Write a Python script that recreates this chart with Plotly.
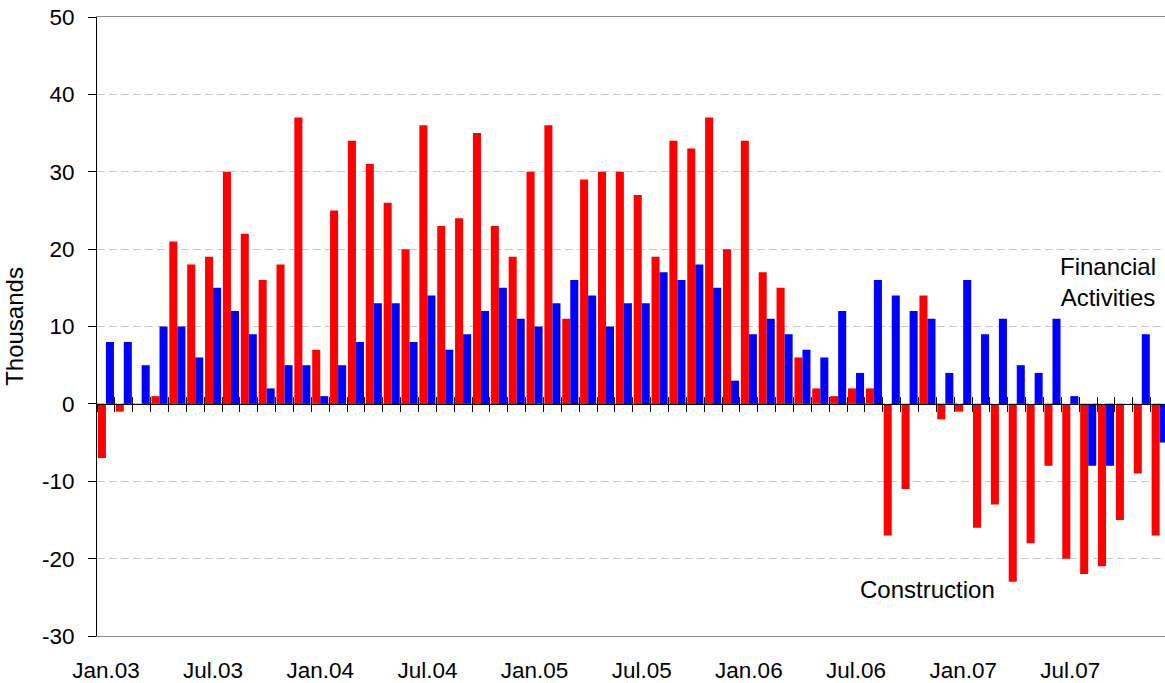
import plotly.graph_objects as go

months = ["Jan", "Feb", "Mar", "Apr", "May", "Jun", "Jul", "Aug", "Sep", "Oct", "Nov", "Dec"]
years = ["03", "04", "05", "06", "07"]
categories = [f"{m}.{y}" for y in years for m in months]

construction = [-7, -1, 0, 1, 21, 18, 19, 30, 22, 16, 18, 37,
                7, 25, 34, 31, 26, 20, 36, 23, 24, 35, 23, 19,
                30, 36, 11, 29, 30, 30, 27, 19, 34, 33, 37, 20,
                34, 17, 15, 6, 2, 1, 2, 2, -17, -11, 14, -2,
                -1, -16, -13, -23, -18, -8, -20, -22, -21, -15, -9, -17]

financial = [8, 8, 5, 10, 10, 6, 15, 12, 9, 2, 5, 5,
             1, 5, 8, 13, 13, 8, 14, 7, 9, 12, 15, 11,
             10, 13, 16, 14, 10, 13, 13, 17, 16, 18, 15, 3,
             9, 11, 9, 7, 6, 12, 4, 16, 14, 12, 11, 4,
             16, 9, 11, 5, 4, 11, 1, -8, -8, 0, 9, -5]

tick_labels = ["Jan.03", "Jul.03", "Jan.04", "Jul.04", "Jan.05",
               "Jul.05", "Jan.06", "Jul.06", "Jan.07", "Jul.07"]

y_ticks = [-30, -20, -10, 0, 10, 20, 30, 40, 50]
y_tick_text = ["-30", "-20", "-10", "0", "10", "20", "30", "40", "50"]

FONT = "Arial, 'Liberation Sans', sans-serif"

fig = go.Figure()
fig.add_trace(go.Bar(x=categories, y=construction, name="Construction",
                     marker=dict(color="#FF0000", line=dict(width=0))))
fig.add_trace(go.Bar(x=categories, y=financial, name="Financial Activities",
                     marker=dict(color="#0000FF", line=dict(width=0))))
# invisible helpers carrying the crossing tick marks on the zero line
for ax in ("x2", "x3"):
    fig.add_trace(go.Scatter(x=categories, y=[0] * len(categories), xaxis=ax, yaxis="y",
                             mode="markers", marker=dict(opacity=0), hoverinfo="skip",
                             showlegend=False))

fig.update_layout(
    width=1165, height=683,
    margin=dict(l=97, r=0, t=17, b=45),
    paper_bgcolor="white", plot_bgcolor="white",
    barmode="group", bargap=0.1, bargroupgap=0,
    showlegend=False,
    font=dict(family=FONT, size=22, color="black"),
    xaxis=dict(
        type="category", categoryorder="array", categoryarray=categories,
        range=[-0.5, 59.3],
        tickmode="array", tickvals=tick_labels, ticktext=tick_labels,
        ticks="", showgrid=False,
        showline=True, linecolor="#8C8C8C", linewidth=1, mirror=True,
        tickfont=dict(size=22.5), ticklabelstandoff=14,
    ),
    xaxis2=dict(
        type="category", matches="x", overlaying="x", anchor="free", position=0.375,
        showticklabels=False, showgrid=False, tickmode="linear", tick0=0, dtick=1,
        tickson="boundaries", ticks="outside", ticklen=7, tickcolor="black", tickwidth=1,
        showline=True, linecolor="black", linewidth=1,
    ),
    xaxis3=dict(
        type="category", matches="x", overlaying="x", anchor="free", position=0.375,
        showticklabels=False, showgrid=False, tickmode="linear", tick0=0, dtick=1,
        tickson="boundaries", ticks="inside", ticklen=7, tickcolor="black", tickwidth=1,
        showline=False,
    ),
    yaxis=dict(
        range=[-30, 50], tickmode="array", tickvals=y_ticks, ticktext=y_tick_text,
        ticks="outside", ticklen=8, tickcolor="black", tickwidth=1,
        showline=True, linecolor="black", linewidth=1,
        showgrid=True, gridcolor="#C8C8C8", griddash="8px,4px", gridwidth=1,
        zeroline=False,
        tickfont=dict(size=22.5), ticklabelstandoff=9,
        title=dict(text="Thousands", font=dict(size=24), standoff=11),
    ),
    annotations=[
        dict(x=56.1, y=15.7, xref="x", yref="y", text="Financial<br>Activities",
             showarrow=False, font=dict(size=24), align="center"),
        dict(x=46.0, y=-24.0, xref="x", yref="y", text="Construction",
             showarrow=False, font=dict(size=24), align="center"),
    ],
)

fig.write_html("out.html",
               config={"displayModeBar": False},
               post_script="document.body.style.margin='0';document.body.style.overflow='hidden';")
